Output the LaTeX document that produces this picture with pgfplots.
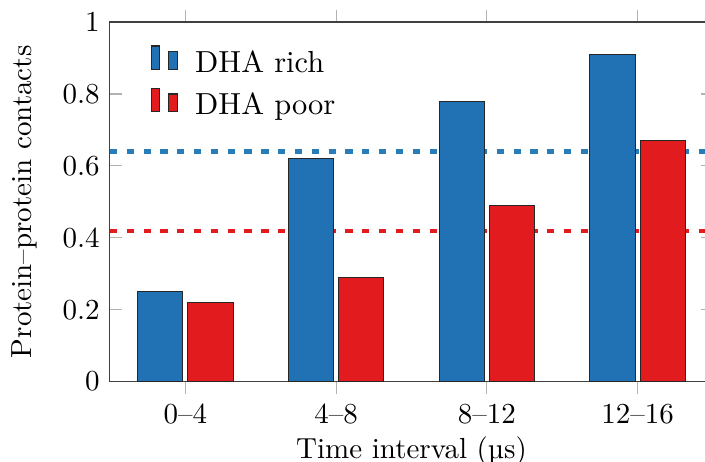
\documentclass[border=0pt]{standalone}
\usepackage{pgfplots}
\pgfplotsset{compat=1.18}

\definecolor{richblue}{RGB}{33,114,180}
\definecolor{poorred}{RGB}{226,27,30}
\definecolor{dashblue}{RGB}{40,125,185}

\begin{document}
\begin{tikzpicture}
\begin{axis}[
    scale only axis,
    width=208pt, height=124pt,
    ybar,
    bar width=0.30,
    xmin=-0.5, xmax=3.5,
    ymin=0, ymax=1,
    xtick={0,1,2,3},
    xticklabels={0--4,4--8,8--12,12--16},
    ytick={0,0.2,0.4,0.6,0.8,1},
    yticklabels={0,0.2,0.4,0.6,0.8,1},
    xtick align=outside,
    tick style={gray!60, thin},
    axis line style={black!75},
    xlabel={Time interval (\textmu s)},
    ylabel={Protein--protein contacts},
    xlabel style={yshift=2.8pt},
    ylabel style={yshift=2pt},
    legend style={draw=none, fill=none, at={(0.052,0.955)}, anchor=north west,
                  row sep=1.5pt, font=\fontsize{10.5}{12}\selectfont},
    legend cell align=left,
]
\addplot[sharp plot, dashblue, line width=1.4pt, dash pattern=on 2.5pt off 3.3pt, forget plot]
    coordinates {(-0.5,0.64) (3.5,0.64)};
\addplot[sharp plot, poorred, line width=1.4pt, dash pattern=on 2.5pt off 3.3pt, forget plot]
    coordinates {(-0.5,0.42) (3.5,0.42)};
\addplot[fill=richblue, draw=black!85, bar shift=-0.167]
    coordinates {(0,0.25) (1,0.62) (2,0.78) (3,0.91)};
\addlegendentry{\hspace{4pt}DHA rich}
\addplot[fill=poorred, draw=black!85, bar shift=0.167]
    coordinates {(0,0.22) (1,0.29) (2,0.49) (3,0.67)};
\addlegendentry{\hspace{4pt}DHA poor}
\end{axis}
\pgfresetboundingbox
\path[use as bounding box] ([xshift=-37.9pt,yshift=-27.6pt]current axis.south west)
    rectangle ([xshift=-2.8pt,yshift=7.6pt]current axis.north east);
\end{tikzpicture}
\end{document}
